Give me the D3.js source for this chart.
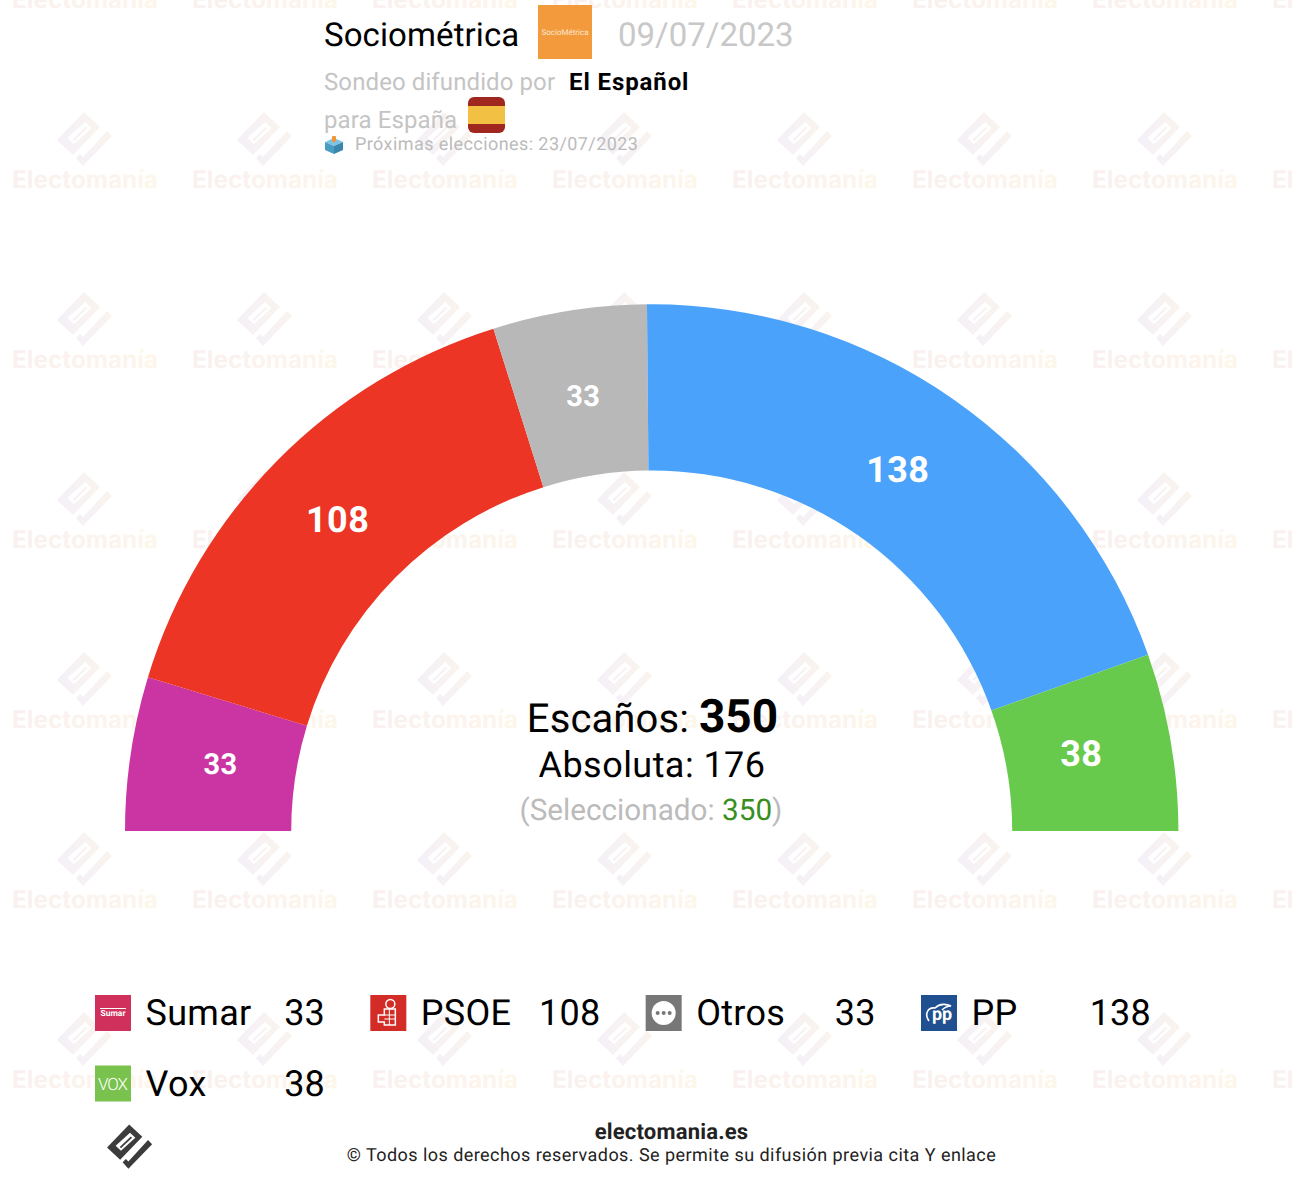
<!DOCTYPE html>
<html>
<head>
<meta charset="utf-8">
<script src="https://cdn.jsdelivr.net/npm/d3@7"></script>
<style>
    html, body { margin: 0; padding: 0; background: #fff; }
    svg { display: block; font-family: Roboto, sans-serif; text-rendering: geometricPrecision; }
</style>
</head>
<body>
<svg id="chart" width="1294" height="1180"></svg>
<script>
var parties = ["Sumar", "PSOE", "Otros", "PP", "Vox"];
var seats = [33, 108, 33, 138, 38];
var partyColors = ["#cb35a3", "#ec3524", "#b8b8b8", "#4aa2fb", "#67ca4c"];

var svg = d3.select("#chart");
var defs = svg.append("defs");

function addGradient(id, from, to) {
    var g = defs.append("linearGradient").attr("id", id);
    g.append("stop").attr("offset", "0%").attr("stop-color", from);
    g.append("stop").attr("offset", "100%").attr("stop-color", to);
}
addGradient("wmText", "#f9f0f0", "#fdf6ea");
addGradient("wmLogo", "#f4f0f8", "#faf4ee");

var logoBody = "M-1,-28L15,-13L-12,15L-28,0ZM0,-18L-17.5,-2L-11,4L6.5,-12Z";
var logoStripe = "M1,-13.5L2.5,-12L-11,1L-12.5,-.5Z";
var logoCheck = "M22,-9L27,-4L-2,26L-9,18L-5,14L-2,17Z";

function drawLogo(parent, x, y, scale, fill) {
    var g = parent.append("g")
        .attr("transform", "translate(" + x + "," + y + ") scale(" + scale + ")")
        .attr("fill", fill);
    g.append("path").attr("d", logoBody).attr("fill-rule", "evenodd");
    g.append("path").attr("d", logoStripe);
    g.append("path").attr("d", logoCheck);
}

// watermark tiles
var wm = svg.append("g");
d3.range(0, 8).forEach(function (col) {
    d3.range(0, 7).forEach(function (row) {
        var cx = 85 + col * 180;
        var baseY = 8 + row * 180;
        drawLogo(wm, cx, baseY - 48, 1, "url(#wmLogo)");
        wm.append("text")
            .attr("x", cx)
            .attr("y", baseY)
            .attr("text-anchor", "middle")
            .attr("font-family", "Inter, sans-serif")
            .attr("font-weight", 700)
            .attr("font-size", 24.3)
            .attr("fill", "url(#wmText)")
            .text("Electomanía");
    });
});

// hemicycle
var centerX = 651.7, centerY = 831, innerRadius = 360.5, outerRadius = 526.7, labelRadius = 438;

var pie = d3.pie().sort(null).startAngle(-Math.PI / 2).endAngle(Math.PI / 2);
var arc = d3.arc().innerRadius(innerRadius).outerRadius(outerRadius);
var slices = pie(seats);

var chart = svg.append("g").attr("transform", "translate(" + centerX + "," + centerY + ")");
chart.selectAll("path")
    .data(slices)
    .enter().append("path")
    .attr("d", arc)
    .attr("fill", function (d, i) { return partyColors[i]; });

var labelArc = d3.arc().innerRadius(labelRadius).outerRadius(labelRadius);
var labelNudge = [2, -3, 0, -5, -2];
chart.selectAll("text")
    .data(slices)
    .enter().append("text")
    .attr("x", function (d, i) { return labelArc.centroid(d)[0] + labelNudge[i]; })
    .attr("y", function (d) { return labelArc.centroid(d)[1] - 3; })
    .attr("dy", "0.35em")
    .attr("text-anchor", "middle")
    .attr("font-weight", 700)
    .attr("font-size", function (d) { return d.value < 35 ? 29 : 36; })
    .attr("letter-spacing", 0.4)
    .attr("fill", "#fff")
    .text(function (d) { return d.value; });

// centre text
var total = d3.sum(seats);
var t1 = svg.append("text").attr("x", 652.5).attr("y", 732).attr("text-anchor", "middle").attr("font-size", 40).attr("fill", "#000");
t1.append("tspan").attr("letter-spacing", 0.1).text("Escaños: ");
t1.append("tspan").attr("font-weight", 700).attr("font-size", 46).text(total);
svg.append("text").attr("x", 652).attr("y", 777).attr("text-anchor", "middle").attr("font-size", 36).attr("letter-spacing", 0.45).attr("fill", "#000")
    .text("Absoluta: " + (Math.floor(total / 2) + 1));
var t3 = svg.append("text").attr("x", 651).attr("y", 820).attr("text-anchor", "middle").attr("font-size", 29.7).attr("fill", "#bbb");
t3.append("tspan").text("(Seleccionado: ");
t3.append("tspan").attr("fill", "#388e1e").text(total);
t3.append("tspan").text(")");

// header
function label(x, y, size, color, str, weight, spacing) {
    return svg.append("text").attr("x", x).attr("y", y).attr("font-size", size)
        .attr("fill", color).attr("font-weight", weight || 400)
        .attr("letter-spacing", spacing || 0).text(str);
}
label(324, 46, 33, "#000", "Sociométrica", 400, 0.1);
svg.append("rect").attr("x", 538).attr("y", 5).attr("width", 54).attr("height", 54).attr("fill", "#f39a3c");
label(565, 35, 8, "#fbe6cf", "SocioMétrica").attr("text-anchor", "middle");
label(618, 46, 33, "#c8c8c8", "09/07/2023");
label(324, 90, 24, "#c4c4c4", "Sondeo difundido por", 400, 0.1);
label(569, 90, 24, "#000", "El Español", 700, 0.9);
label(324, 128, 24, "#c4c4c4", "para España", 400, 0.1);

// flag
defs.append("clipPath").attr("id", "flagClip")
    .append("rect").attr("x", 468).attr("y", 97).attr("width", 37).attr("height", 36).attr("rx", 6);
var flag = svg.append("g").attr("clip-path", "url(#flagClip)");
flag.append("rect").attr("x", 468).attr("y", 97).attr("width", 37).attr("height", 36).attr("fill", "#a0271f");
flag.append("rect").attr("x", 468).attr("y", 106).attr("width", 37).attr("height", 18).attr("fill", "#f2c144");

// ballot box
svg.append("path").attr("d", "M325,142L334,138L343,142L334,146Z").attr("fill", "#7cc4e6");
svg.append("path").attr("d", "M325,142L334,146L334,154L325,150Z").attr("fill", "#4a9cc4");
svg.append("path").attr("d", "M343,142L334,146L334,154L343,150Z").attr("fill", "#3a87ad");
svg.append("rect").attr("x", 332).attr("y", 136).attr("width", 4).attr("height", 6).attr("rx", 1).attr("fill", "#f0953a");
label(355, 150, 18, "#bbb", "Próximas elecciones: 23/07/2023", 400, 0.42);

// legend
var legendX = d3.scaleLinear().domain([0, 3]).range([95, 921]);
var legendY = d3.scaleLinear().domain([0, 1]).range([995, 1065.5]);
var iconColors = ["#d0305c", "#d32b25", "#777777", "#20508f", "#78c24d"];

function drawIcon(g, i) {
    g.append("rect").attr("width", 36).attr("height", 36).attr("fill", iconColors[i]);
    var txt = g.append("text").attr("x", 18).attr("text-anchor", "middle").attr("fill", "#fff");
    if (i === 0) {
        g.append("rect").attr("x", 5).attr("y", 13).attr("width", 26).attr("height", 1).attr("fill", "#fff");
        txt.attr("y", 21).attr("font-size", 8.5).attr("font-weight", 700).text("Sumar");
    } else if (i === 1) {
        g.append("circle").attr("cx", 20).attr("cy", 9).attr("r", 4.5).attr("fill", "none").attr("stroke", "#fff").attr("stroke-width", 1.5);
        g.append("path").attr("d", "M14,14H25V30H14V27H8V20H14Z").attr("fill", "none").attr("stroke", "#fff").attr("stroke-width", 1.5);
        g.append("path").attr("d", "M14,20H25M14,24H25M19,14V30").attr("fill", "none").attr("stroke", "#fff").attr("stroke-width", 1);
    } else if (i === 2) {
        g.append("circle").attr("cx", 18).attr("cy", 18).attr("r", 12).attr("fill", "#fff");
        [12, 18, 24].forEach(function (x) {
            g.append("circle").attr("cx", x).attr("cy", 18).attr("r", 2).attr("fill", "#777");
        });
    } else if (i === 3) {
        g.append("path").attr("d", "M8,26C3,19 7,12 14,13C19,8 26,9 30,11C26,11 23,13 21,15").attr("fill", "none").attr("stroke", "#fff").attr("stroke-width", 1.6);
        txt.attr("x", 21).attr("y", 25).attr("font-size", 18).attr("font-weight", 700).text("pp");
    } else {
        txt.attr("y", 24).attr("font-size", 17).attr("font-weight", 300).attr("textLength", 30).text("VOX");
    }
}

var items = svg.selectAll("g.legend")
    .data(parties)
    .enter().append("g")
    .attr("class", "legend")
    .attr("transform", function (d, i) {
        return "translate(" + legendX(i % 4) + "," + legendY(Math.floor(i / 4)) + ")";
    });
items.each(function (d, i) { drawIcon(d3.select(this), i); });
items.append("text").attr("x", 50.5).attr("y", 30).attr("font-size", 36).attr("letter-spacing", 0.3).attr("fill", "#000").text(function (d) { return d; });
items.append("text").attr("x", 230).attr("y", 30).attr("text-anchor", "end").attr("font-size", 36).attr("letter-spacing", 0.2).attr("fill", "#000")
    .text(function (d, i) { return seats[i]; });

// footer
drawLogo(svg, 130, 1147.5, 0.82, "#3c3c3c");
label(671.5, 1139, 22, "#222", "electomania.es", 700, 0.2).attr("text-anchor", "middle");
label(671.5, 1161, 18, "#222", "© Todos los derechos reservados. Se permite su difusión previa cita Y enlace", 400, 0.45).attr("text-anchor", "middle");
</script>
</body>
</html>
